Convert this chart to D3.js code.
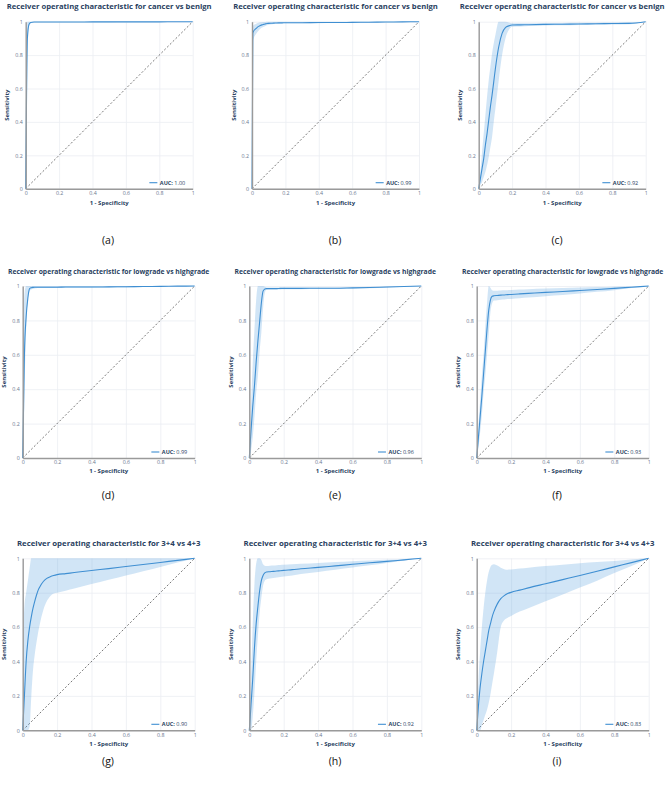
<!DOCTYPE html>
<html>
<head>
<meta charset="utf-8">
<script src="https://cdn.jsdelivr.net/npm/d3@7"></script>
<style>
  body { margin: 0; background: #fff; }
  text { font-family: "Open Sans", sans-serif; }
</style>
</head>
<body>
<script>
// common false positive rate grid (1 - specificity)
const fpr = [0, 0.005, 0.01, 0.02, 0.03, 0.04, 0.05, 0.06, 0.07, 0.08, 0.09, 0.1, 0.12, 0.14, 0.16, 0.18, 0.2, 0.25, 0.3, 0.4, 0.5, 0.6, 0.7, 0.8, 0.9, 1];

const ticks = [0, 0.2, 0.4, 0.6, 0.8, 1];
const subLabels = ["(a)", "(b)", "(c)", "(d)", "(e)", "(f)", "(g)", "(h)", "(i)"];
const titles = [
  "Receiver operating characteristic for cancer vs benign",
  "Receiver operating characteristic for lowgrade vs highgrade",
  "Receiver operating characteristic for 3+4 vs 4+3"
];
const aucs = ["1.00", "0.99", "0.92", "0.99", "0.96", "0.93", "0.90", "0.92", "0.83"];

// mean sensitivity, upper and lower band per panel
const meanA = [0, 0.55, 0.9, 0.985, 0.995, 0.997, 0.998, 0.998, 0.998, 0.998, 0.998, 0.998, 0.998, 0.998, 0.998, 0.998, 0.998, 0.998, 0.998, 0.999, 0.999, 0.999, 0.999, 0.999, 1, 1];
const hiA   = [0, 0.85, 1, 1, 1, 1, 1, 1, 1, 1, 1, 1, 1, 1, 1, 1, 1, 1, 1, 1, 1, 1, 1, 1, 1, 1];
const loA   = [0, 0.25, 0.8, 0.97, 0.99, 0.994, 0.996, 0.996, 0.996, 0.996, 0.996, 0.996, 0.996, 0.996, 0.996, 0.996, 0.996, 0.996, 0.996, 0.997, 0.997, 0.998, 0.998, 0.998, 0.999, 1];

const meanB = [0, 0.93, 0.945, 0.955, 0.965, 0.972, 0.977, 0.981, 0.984, 0.987, 0.989, 0.99, 0.991, 0.992, 0.993, 0.993, 0.994, 0.994, 0.994, 0.995, 0.995, 0.996, 0.997, 0.998, 0.999, 1];
const hiB   = [0, 0.97, 0.98, 0.985, 0.99, 0.994, 0.996, 0.997, 0.998, 0.998, 0.999, 0.999, 1, 1, 1, 1, 1, 1, 1, 1, 1, 1, 1, 1, 1, 1];
const loB   = [0, 0.88, 0.9, 0.92, 0.935, 0.948, 0.958, 0.965, 0.97, 0.975, 0.979, 0.982, 0.985, 0.987, 0.988, 0.989, 0.99, 0.99, 0.99, 0.991, 0.992, 0.993, 0.995, 0.996, 0.998, 1];

const meanC = [0, 0.03, 0.06, 0.12, 0.18, 0.26, 0.33, 0.41, 0.49, 0.56, 0.64, 0.72, 0.85, 0.93, 0.965, 0.975, 0.98, 0.981, 0.982, 0.984, 0.985, 0.986, 0.988, 0.989, 0.99, 1];
const hiC   = [0, 0.05, 0.1, 0.22, 0.33, 0.44, 0.55, 0.65, 0.73, 0.81, 0.87, 0.92, 1, 1, 1, 0.995, 0.99, 0.99, 0.99, 0.991, 0.992, 0.993, 0.994, 0.995, 0.996, 1];
const loC   = [0, 0.01, 0.02, 0.04, 0.07, 0.1, 0.14, 0.19, 0.25, 0.31, 0.4, 0.48, 0.65, 0.8, 0.9, 0.95, 0.97, 0.972, 0.974, 0.977, 0.978, 0.98, 0.982, 0.983, 0.985, 1];

const meanD = [0, 0.3, 0.6, 0.82, 0.93, 0.985, 0.99, 0.992, 0.993, 0.993, 0.993, 0.993, 0.993, 0.993, 0.993, 0.993, 0.993, 0.994, 0.994, 0.994, 0.995, 0.996, 0.997, 0.998, 0.999, 1];
const hiD   = [0, 0.7, 0.95, 1, 1, 1, 1, 1, 1, 1, 1, 1, 1, 1, 1, 1, 1, 1, 1, 1, 1, 1, 1, 1, 1, 1];
const loD   = [0, 0.05, 0.35, 0.75, 0.92, 0.97, 0.98, 0.984, 0.986, 0.987, 0.988, 0.989, 0.989, 0.989, 0.989, 0.989, 0.99, 0.99, 0.99, 0.99, 0.991, 0.992, 0.994, 0.996, 0.998, 1];

const meanE = [0, 0.08, 0.16, 0.3, 0.42, 0.56, 0.68, 0.79, 0.9, 0.97, 0.982, 0.985, 0.985, 0.985, 0.985, 0.986, 0.986, 0.986, 0.986, 0.987, 0.987, 0.989, 0.991, 0.994, 0.997, 1];
const hiE   = [0, 0.15, 0.3, 0.55, 0.75, 0.92, 1, 1, 1, 1, 0.995, 0.992, 0.991, 0.991, 0.991, 0.991, 0.991, 0.991, 0.991, 0.992, 0.992, 0.993, 0.995, 0.997, 0.999, 1];
const loE   = [0, 0, 0.04, 0.12, 0.24, 0.38, 0.48, 0.62, 0.73, 0.87, 0.96, 0.978, 0.979, 0.98, 0.98, 0.98, 0.981, 0.981, 0.981, 0.982, 0.982, 0.984, 0.987, 0.99, 0.995, 1];

const meanF = [0, 0.06, 0.12, 0.24, 0.36, 0.49, 0.62, 0.75, 0.86, 0.92, 0.94, 0.943, 0.945, 0.947, 0.948, 0.95, 0.951, 0.954, 0.957, 0.963, 0.968, 0.974, 0.98, 0.986, 0.993, 1];
const hiF   = [0, 0.09, 0.18, 0.33, 0.48, 0.6, 0.76, 0.9, 1, 0.99, 0.975, 0.972, 0.973, 0.974, 0.975, 0.976, 0.977, 0.979, 0.981, 0.985, 0.988, 0.991, 0.994, 0.996, 0.998, 1];
const loF   = [0, 0.03, 0.06, 0.15, 0.25, 0.38, 0.48, 0.6, 0.72, 0.85, 0.9, 0.915, 0.917, 0.92, 0.921, 0.924, 0.925, 0.929, 0.933, 0.941, 0.948, 0.957, 0.966, 0.976, 0.988, 1];

const meanG = [0, 0.1, 0.2, 0.4, 0.52, 0.6, 0.66, 0.71, 0.75, 0.785, 0.815, 0.835, 0.865, 0.883, 0.893, 0.9, 0.905, 0.911, 0.917, 0.929, 0.94, 0.952, 0.964, 0.976, 0.988, 1];
const hiG   = [0, 0.55, 0.72, 0.8, 0.87, 0.94, 1, 1, 1, 1, 1, 1, 1, 1, 1, 1, 1, 1, 1, 1, 1, 1, 1, 1, 1, 1];
const loG   = [0, 0, 0, 0, 0, 0.02, 0.2, 0.35, 0.44, 0.51, 0.57, 0.62, 0.7, 0.75, 0.78, 0.795, 0.8, 0.812, 0.825, 0.85, 0.875, 0.9, 0.925, 0.95, 0.975, 1];

const meanH = [0, 0.07, 0.15, 0.3, 0.48, 0.62, 0.72, 0.81, 0.87, 0.9, 0.915, 0.92, 0.922, 0.924, 0.926, 0.928, 0.93, 0.934, 0.939, 0.947, 0.956, 0.965, 0.974, 0.982, 0.991, 1];
const hiH   = [0, 0.15, 0.3, 0.62, 0.85, 0.97, 1, 1, 0.99, 0.965, 0.957, 0.955, 0.957, 0.958, 0.96, 0.961, 0.962, 0.965, 0.968, 0.973, 0.978, 0.983, 0.987, 0.991, 0.996, 1];
const loH   = [0, 0, 0, 0.08, 0.22, 0.4, 0.55, 0.68, 0.77, 0.84, 0.87, 0.878, 0.882, 0.885, 0.888, 0.891, 0.894, 0.9, 0.908, 0.921, 0.934, 0.947, 0.96, 0.973, 0.987, 1];

const meanI = [0, 0.07, 0.14, 0.25, 0.33, 0.4, 0.46, 0.52, 0.58, 0.62, 0.66, 0.69, 0.735, 0.765, 0.783, 0.795, 0.802, 0.815, 0.828, 0.852, 0.876, 0.9, 0.925, 0.95, 0.975, 1];
const hiI   = [0, 0.14, 0.28, 0.46, 0.6, 0.71, 0.8, 0.87, 0.92, 0.95, 0.962, 0.965, 0.958, 0.945, 0.937, 0.934, 0.935, 0.94, 0.945, 0.955, 0.963, 0.971, 0.978, 0.985, 0.993, 1];
const loI   = [0, 0, 0, 0, 0.03, 0.06, 0.09, 0.12, 0.16, 0.21, 0.27, 0.33, 0.46, 0.6, 0.64, 0.655, 0.665, 0.69, 0.71, 0.75, 0.79, 0.83, 0.87, 0.915, 0.955, 1];

const curves = [
  [meanA, hiA, loA], [meanB, hiB, loB], [meanC, hiC, loC],
  [meanD, hiD, loD], [meanE, hiE, loE], [meanF, hiF, loF],
  [meanG, hiG, loG], [meanH, hiH, loH], [meanI, hiI, loI]
];

// page layout, one entry per row of panels
const rows = [
  { top: 21.7, size: 167, lefts: [25.7, 252, 478.7], titleY: 6, titleW: 205, xTitleY: 202.5, labelY: 240 },
  { top: 286,  size: 172, lefts: [22.7, 249.3, 476.7], titleY: 271, titleW: 202, xTitleY: 471, labelY: 495 },
  { top: 558.3, size: 172, lefts: [22.7, 249.3, 476.7], titleY: 543.3, titleW: 184, xTitleY: 743.5, labelY: 761 }
];
const labelX = [108, 335, 557];

const lineColor = "#3f8fd2";
const bandColor = "rgba(70,150,220,0.25)";
const ink = "#2a3f5f";

const svg = d3.select("body").append("svg")
  .attr("width", 667)
  .attr("height", 785)
  .style("background", "#fff");

curves.forEach(function(c, i) {
  const r = rows[Math.floor(i / 3)],
      col = i % 3,
      x0 = r.lefts[col],
      s = r.size,
      y0 = r.top;

  const x = d3.scaleLinear().domain([0, 1]).range([x0, x0 + s]);
  const y = d3.scaleLinear().domain([0, 1]).range([y0 + s, y0]);
  const g = svg.append("g");

  // grid
  g.append("g")
    .attr("transform", "translate(0," + (y0 + s) + ")")
    .call(d3.axisBottom(x).tickValues(ticks).tickSize(-s).tickFormat(""))
    .call(a => a.select(".domain").remove())
    .call(a => a.selectAll("line").attr("stroke", "#ebeef2").attr("stroke-width", 0.8));
  g.append("g")
    .attr("transform", "translate(" + x0 + ",0)")
    .call(d3.axisLeft(y).tickValues(ticks).tickSize(-s).tickFormat(""))
    .call(a => a.select(".domain").remove())
    .call(a => a.selectAll("line").attr("stroke", "#ebeef2").attr("stroke-width", 0.8));

  // chance line
  g.append("line")
    .attr("x1", x(0)).attr("y1", y(0))
    .attr("x2", x(1)).attr("y2", y(1))
    .attr("stroke", "#555")
    .attr("stroke-width", 0.8)
    .attr("stroke-dasharray", "2,2");

  const pts = fpr.map((f, k) => ({ f: f, m: c[0][k], hi: c[1][k], lo: c[2][k] }));

  g.append("path")
    .datum(pts)
    .attr("fill", bandColor)
    .attr("d", d3.area()
      .x(d => x(d.f))
      .y0(d => y(d.lo))
      .y1(d => y(d.hi))
      .curve(d3.curveMonotoneX));

  g.append("path")
    .datum(pts)
    .attr("fill", "none")
    .attr("stroke", lineColor)
    .attr("stroke-width", 1.1)
    .attr("d", d3.line()
      .x(d => x(d.f))
      .y(d => y(d.m))
      .curve(d3.curveMonotoneX));

  // axes
  const fmt = d => d3.format("~g")(d);
  g.append("g")
    .attr("transform", "translate(0," + (y0 + s) + ")")
    .call(d3.axisBottom(x).tickValues(ticks).tickSize(0).tickPadding(2.5).tickFormat(fmt))
    .call(a => a.select(".domain").attr("stroke", "#9a9a9a").attr("stroke-width", 1.4))
    .call(a => a.selectAll("text").attr("font-size", 5.3).attr("fill", "#6b7890").attr("font-family", "Open Sans"));
  g.append("g")
    .attr("transform", "translate(" + x0 + ",0)")
    .call(d3.axisLeft(y).tickValues(ticks).tickSize(0).tickPadding(3).tickFormat(fmt))
    .call(a => a.select(".domain").attr("stroke", "#9a9a9a").attr("stroke-width", 1.4))
    .call(a => a.selectAll("text").attr("font-size", 5.3).attr("fill", "#6b7890").attr("font-family", "Open Sans"));

  // title, fitted to the width it has in the figure
  const t = g.append("text")
    .attr("x", x0 + s / 2)
    .attr("y", r.titleY)
    .attr("text-anchor", "middle")
    .attr("dominant-baseline", "central")
    .attr("font-weight", "bold")
    .attr("fill", ink)
    .attr("font-size", 10)
    .text(titles[Math.floor(i / 3)]);
  const tl = t.node().getComputedTextLength();
  t.attr("font-size", 10 * r.titleW / tl);

  g.append("text")
    .attr("x", x0 + s / 2)
    .attr("y", r.xTitleY)
    .attr("text-anchor", "middle")
    .attr("dominant-baseline", "central")
    .attr("font-weight", "bold")
    .attr("font-size", 6)
    .attr("fill", ink)
    .text("1 - Specificity");

  g.append("text")
    .attr("transform", "translate(" + (x0 - 18.5) + "," + (y0 + s / 2) + ") rotate(-90)")
    .attr("text-anchor", "middle")
    .attr("dominant-baseline", "central")
    .attr("font-weight", "bold")
    .attr("font-size", 6)
    .attr("fill", ink)
    .text("Sensitivity");

  // legend
  const lt = g.append("text")
    .attr("x", x0 + s - 7.5)
    .attr("y", y0 + s - 6)
    .attr("text-anchor", "end")
    .attr("dominant-baseline", "central")
    .attr("font-size", 5.5)
    .attr("fill", ink);
  lt.append("tspan").attr("font-weight", "bold").text("AUC:");
  lt.append("tspan").text(" " + aucs[i]);
  const lw = lt.node().getComputedTextLength();
  const lx = x0 + s - 7.5 - lw - 2.5;
  g.append("line")
    .attr("x1", lx - 8).attr("x2", lx)
    .attr("y1", y0 + s - 6).attr("y2", y0 + s - 6)
    .attr("stroke", lineColor)
    .attr("stroke-width", 1.1);

  // sub-figure label
  svg.append("text")
    .attr("x", labelX[col])
    .attr("y", r.labelY)
    .attr("text-anchor", "middle")
    .attr("dominant-baseline", "central")
    .attr("font-family", "Liberation Sans, Arial, sans-serif")
    .attr("font-size", 10.5)
    .attr("fill", "#111")
    .text(subLabels[i]);
});
</script>
</body>
</html>
